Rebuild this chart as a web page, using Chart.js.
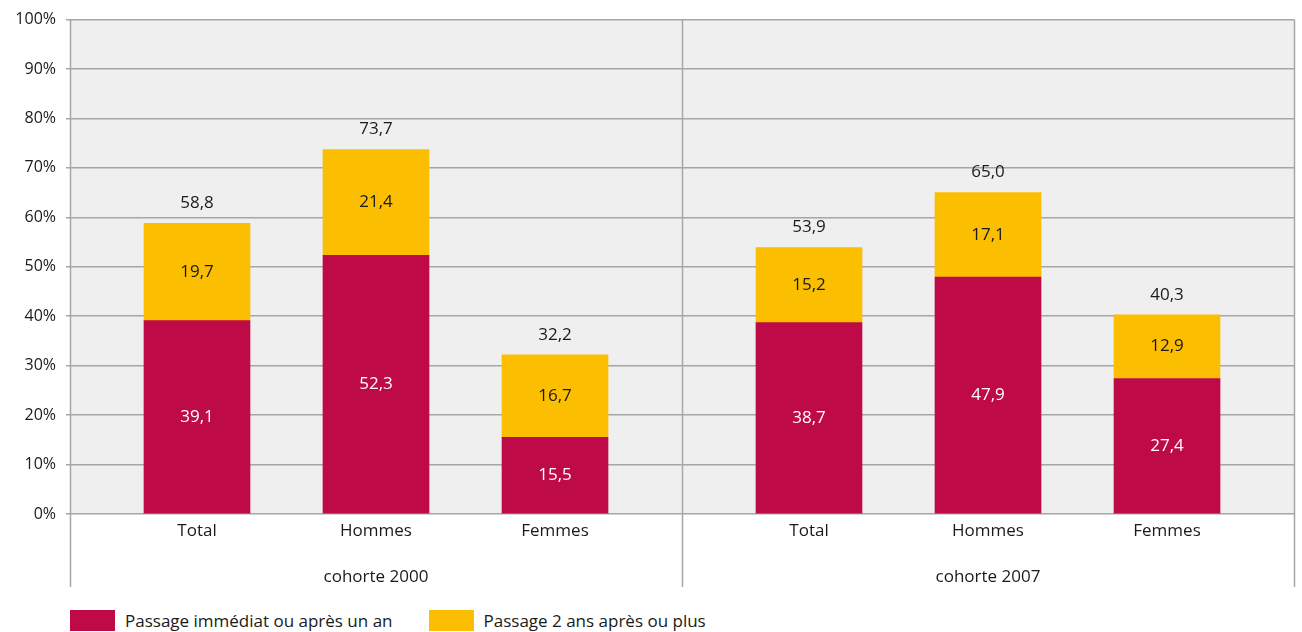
<!DOCTYPE html>
<html>
<head>
<meta charset="utf-8">
<script src="https://cdn.jsdelivr.net/npm/chart.js@4"></script>
<style>
  html, body { margin: 0; padding: 0; background: #fff; }
  #box { width: 1302px; height: 600px; }
  #legend { display: flex; margin: 9px 0 0 70px; font: 17px "Open Sans", sans-serif; color: #1a1a1a; }
  #legend .item { display: flex; align-items: center; margin-right: 36px; }
  #legend .sw { width: 45px; height: 21px; margin-right: 10px; }
</style>
</head>
<body>
<div id="box"><canvas id="chart"></canvas></div>
<div id="legend"></div>
<script>
const cohorts = ['cohorte 2000', 'cohorte 2007'];
const groups = ['Total', 'Hommes', 'Femmes'];
const immediat = [39.1, 52.3, 15.5, 38.7, 47.9, 27.4];
const plusTard = [19.7, 21.4, 16.7, 15.2, 17.1, 12.9];
const totaux = [58.8, 73.7, 32.2, 53.9, 65.0, 40.3];
const yTicks = [0, 10, 20, 30, 40, 50, 60, 70, 80, 90, 100];
const seriesNames = ['Passage immédiat ou après un an', 'Passage 2 ans après ou plus'];
const seriesColors = ['#be0a46', '#fbbe00'];

const FONT = '"Open Sans", sans-serif';
const GRID = '#a6a6a6';
const INK = '#1a1a1a';

// bar slots inside each cohort: middle at 0.5, spacing 179/612 of the group
const spacing = 0.2925;
let slots = [];
let slotLabels = [];
cohorts.forEach((c, g) => {
    groups.forEach((name, i) => {
        slots.push(g + 0.5 + (i - 1) * spacing);
        slotLabels.push(name);
    });
});

function fr(v) {
    return v.toFixed(1).replace('.', ',');
}

const barLabels = {
    id: 'barLabels',
    afterDatasetsDraw(chart) {
        let ctx = chart.ctx;
        ctx.save();
        ctx.font = '17px ' + FONT;
        ctx.textAlign = 'center';
        ctx.textBaseline = 'middle';
        chart.data.datasets.forEach((ds, d) => {
            chart.getDatasetMeta(d).data.forEach((bar, i) => {
                ctx.fillStyle = d == 0 ? '#ffffff' : INK;
                ctx.fillText(fr(ds.data[i].y), bar.x, (bar.y + bar.base) / 2);
                if (d == 1) {
                    ctx.fillStyle = INK;
                    ctx.fillText(fr(totaux[i]), bar.x, bar.y - 20);
                }
            });
        });
        ctx.restore();
    }
};

const dividers = {
    id: 'dividers',
    afterDraw(chart) {
        let ctx = chart.ctx;
        let x = chart.scales.x;
        let bottom = chart.scales.x2.bottom;
        ctx.save();
        ctx.strokeStyle = GRID;
        ctx.lineWidth = 1.5;
        for (let v = 0; v <= cohorts.length; v++) {
            let px = Math.round(x.getPixelForValue(v)) + 0.5;
            ctx.beginPath();
            ctx.moveTo(px, chart.chartArea.top);
            ctx.lineTo(px, bottom);
            ctx.stroke();
        }
        ctx.restore();
    }
};

const plotBg = {
    id: 'plotBg',
    beforeDraw(chart) {
        let a = chart.chartArea;
        chart.ctx.save();
        chart.ctx.fillStyle = '#efefef';
        chart.ctx.fillRect(a.left, a.top, a.right - a.left, a.bottom - a.top);
        chart.ctx.restore();
    }
};

new Chart(document.getElementById('chart'), {
    type: 'bar',
    data: {
        datasets: seriesNames.map((name, s) => ({
            label: name,
            data: (s == 0 ? immediat : plusTard).map((v, i) => ({ x: slots[i], y: v })),
            backgroundColor: seriesColors[s],
            xAxisID: 'x'
        }))
    },
    options: {
        responsive: true,
        maintainAspectRatio: false,
        animation: false,
        barThickness: 106,
        layout: { padding: { top: 14, right: 8, left: 0, bottom: 13 } },
        plugins: {
            tooltip: { enabled: false },
            legend: { display: false }
        },
        scales: {
            x: {
                type: 'linear',
                min: 0,
                max: cohorts.length,
                offset: false,
                stacked: true,
                grid: { display: false, drawTicks: false },
                border: { display: false },
                afterBuildTicks: axis => { axis.ticks = slots.map(v => ({ value: v })); },
                afterFit: axis => { axis.height = 40; },
                ticks: {
                    autoSkip: false,
                    maxRotation: 0,
                    color: INK,
                    font: { family: FONT, size: 17 },
                    padding: 7,
                    callback: (v, i) => slotLabels[i]
                }
            },
            x2: {
                type: 'category',
                labels: cohorts,
                position: 'bottom',
                offset: true,
                grid: { display: false, drawTicks: false },
                border: { display: false },
                afterFit: axis => { axis.height = 33; },
                ticks: {
                    color: INK,
                    font: { family: FONT, size: 17 },
                    padding: 13
                }
            },
            y: {
                stacked: true,
                min: 0,
                max: 100,
                afterBuildTicks: axis => { axis.ticks = yTicks.map(v => ({ value: v })); },
                afterFit: axis => { axis.width = 70; },
                grid: { color: GRID, lineWidth: 1.5, tickLength: 4 },
                border: { display: false },
                ticks: {
                    color: INK,
                    font: { family: FONT, size: 16 },
                    padding: 10,
                    callback: v => v + '%'
                }
            }
        }
    },
    plugins: [plotBg, barLabels, dividers]
});

let legend = document.getElementById('legend');
seriesNames.forEach((name, s) => {
    let item = document.createElement('div');
    item.className = 'item';
    let sw = document.createElement('span');
    sw.className = 'sw';
    sw.style.background = seriesColors[s];
    let txt = document.createElement('span');
    txt.textContent = name;
    item.appendChild(sw);
    item.appendChild(txt);
    legend.appendChild(item);
});
</script>
</body>
</html>
